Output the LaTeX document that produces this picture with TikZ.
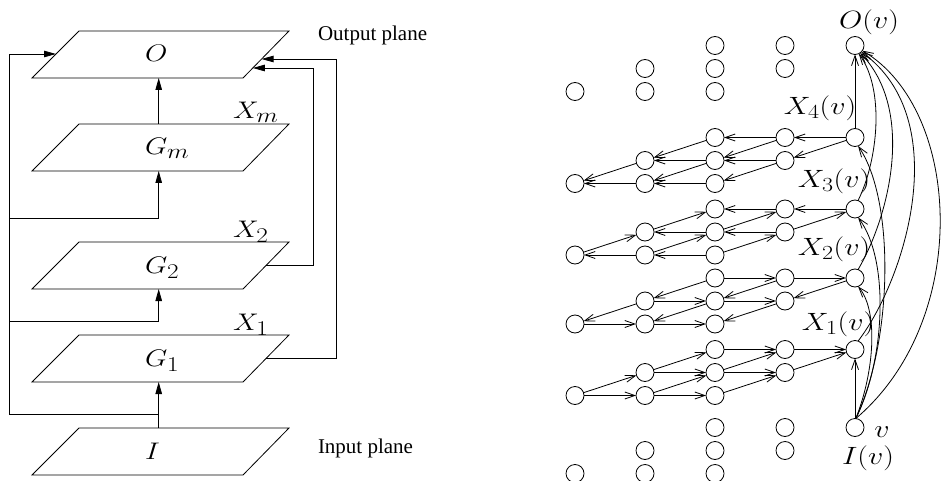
\RequirePackage{fix-cm}
\documentclass[tikz,border=0pt]{standalone}
\usepackage{fontspec}
\usepackage{graphicx}
\setmainfont{Liberation Serif}
\usetikzlibrary{arrows.meta,calc}
\DeclareMathSizes{24}{24}{21}{16}
\DeclareMathSizes{25}{25}{20}{16}
% wide math labels
\newcommand\wm[1]{\scalebox{1.2}[1]{$#1$}}
% one slanted plane: name, y of top edge, label
\newcommand\pplane[3]{%
  \draw (79,#2) coordinate (#1-tl) -- (289,#2) coordinate (#1-tr)
    -- (243,#2+47) coordinate (#1-br) -- (32,#2+47) coordinate (#1-bl) -- cycle;
  \coordinate (#1-t) at (158.7,#2);
  \coordinate (#1-b) at (158.7,#2+47);
  \node[lbl, anchor=base west] (#1) at (145,#2+31) {\wm{#3}};
}
% a block of nine cells: name, y of top row
\newcommand\cellblock[2]{%
  \foreach \rw in {0,1,2}{
    \foreach \jj in {0,1,2}{
      \pgfmathtruncatemacro\cA{4-\rw-\jj}
      \node[dot] (#1-\cA-\rw) at ({575+70*\cA},{#2+23*\rw}) {};
    }
  }
}
% arrows of a block: name, horizontal leftwards (1/0), diagonal down-left (1/0)
\newcommand\cellarrows[3]{%
  \foreach \rw in {0,1,2}{
    \foreach \jj in {0,1}{
      \pgfmathtruncatemacro\cA{4-\rw-\jj}
      \pgfmathtruncatemacro\cB{\cA-1}
      \ifnum#2=1 \draw[barb] (#1-\cA-\rw) -- (#1-\cB-\rw);
      \else \draw[barb] (#1-\cB-\rw) -- (#1-\cA-\rw); \fi
    }
  }
  \foreach \rw in {0,1}{
    \foreach \jj in {0,1,2}{
      \pgfmathtruncatemacro\cA{4-\rw-\jj}
      \pgfmathtruncatemacro\cB{\cA-1}
      \pgfmathtruncatemacro\rB{\rw+1}
      \ifnum#3=1 \draw[barb] (#1-\cA-\rw) -- (#1-\cB-\rB);
      \else \draw[barb] (#1-\cB-\rB) -- (#1-\cA-\rw); \fi
    }
  }
}
\begin{document}
\begin{tikzpicture}[x=1pt,y=-1pt,line width=0.8pt,
  every node/.style={inner sep=0pt,outer sep=0pt},
  fillarrow/.style={-{Triangle[length=12pt,width=6.5pt]}},
  dot/.style={circle,draw,minimum size=18pt,inner sep=0pt,line width=0.8pt},
  barb/.style={-{Straight Barb[length=10pt,width=7pt]}},
  lbl/.style={font=\fontsize{24}{28}\selectfont},
  rlbl/.style={font=\fontsize{25}{30}\selectfont},
  txt/.style={font=\fontsize{21}{25}\selectfont}]
\useasboundingbox (0,0) rectangle (944,481);

% ---------- planes ----------
\pplane{O}{31}{O}
\pplane{Gm}{124}{G_m}
\pplane{G2}{242}{G_2}
\pplane{G1}{335}{G_1}
\pplane{I}{428}{I}

\node[lbl,anchor=base west] (xm) at (233,119) {\wm{X_m}};
\node[lbl,anchor=base west] (xtwo) at (233,237) {\wm{X_2}};
\node[lbl,anchor=base west] (xone) at (233,330) {\wm{X_1}};
\node[txt,anchor=base west] (outlbl) at (318,41) {Output plane};
\node[txt,anchor=base west] (inlbl) at (318,453) {Input plane};

% entry points on the output plane
\coordinate (O-in1) at ($(O-tl)!23/47!(O-bl)$);
\coordinate (O-in2) at ($(O-tr)!37/47!(O-br)$);
\coordinate (O-in3) at ($(O-tr)!28/47!(O-br)$);
\coordinate (G2-out) at ($(G2-tr)!0.5!(G2-br)$);
\coordinate (G1-out) at ($(G1-tr)!0.5!(G1-br)$);
\coordinate (bus) at (9,0);
\coordinate (rbA) at (313,0);
\coordinate (rbB) at (336,0);
\coordinate (j0) at (158.7,414);
\coordinate (j2) at (158.7,321);
\coordinate (jm) at (158.7,218);

\draw[fillarrow] (I-t) -- (G1-b);
\draw[fillarrow] (Gm-t) -- (O-b);
\draw[fillarrow] (j0) -- (j0 -| bus) -- (O-in1 -| bus) -- (O-in1);
\draw[fillarrow] (j2 -| bus) -- (j2) -- (G2-b);
\draw[fillarrow] (jm -| bus) -- (jm) -- (Gm-b);
\draw[fillarrow] (G2-out) -- (G2-out -| rbA) -- (O-in2 -| rbA) -- (O-in2);
\draw[fillarrow] (G1-out) -- (G1-out -| rbB) -- (O-in3 -| rbB) -- (O-in3);

% ---------- cell grid ----------
\cellblock{o}{45.5}
\cellblock{xf}{137.5}
\cellblock{xt}{209}
\cellblock{xs}{278}
\cellblock{xo}{349.5}
\cellblock{i}{427.5}

\cellarrows{xf}{1}{1}
\cellarrows{xt}{1}{0}
\cellarrows{xs}{0}{1}
\cellarrows{xo}{0}{0}

% links along the right column
\draw[barb] (i-4-0) -- (xo-4-0);
\draw[barb] (xf-4-0) -- (o-4-0);
\draw[barb] (i-4-0.85) .. controls (875,370) and (878,310) .. (xs-4-0.290);
\draw[barb] (i-4-0.85) .. controls (885,360) and (890,260) .. (xt-4-0.290);
\draw[barb] (i-4-0.85) .. controls (893,340) and (895,200) .. (xf-4-0.290);
\draw[barb] (xt-4-0.70) .. controls (878,160) and (885,90) .. (o-4-0.295);
\draw[barb] (xs-4-0.70) .. controls (890,215) and (915,110) .. (o-4-0.305);
\draw[barb] (xo-4-0.70) .. controls (905,280) and (955,120) .. (o-4-0.315);
\draw[barb] (i-4-0.85) .. controls (972,320) and (962,110) .. (o-4-0.325);

\node[rlbl] (lo) at (869,22) {\wm{O(v)}};
\node[rlbl] (lf) at (820,108) {\wm{X_4(v)}};
\node[rlbl] (lt) at (834,181) {\wm{X_3(v)}};
\node[rlbl] (ls) at (834,249) {\wm{X_2(v)}};
\node[rlbl] (lone) at (838,324) {\wm{X_1(v)}};
\node[rlbl] (lv) at (882,432) {\wm{v}};
\node[rlbl] (li) at (868,458) {\wm{I(v)}};
\end{tikzpicture}
\end{document}
